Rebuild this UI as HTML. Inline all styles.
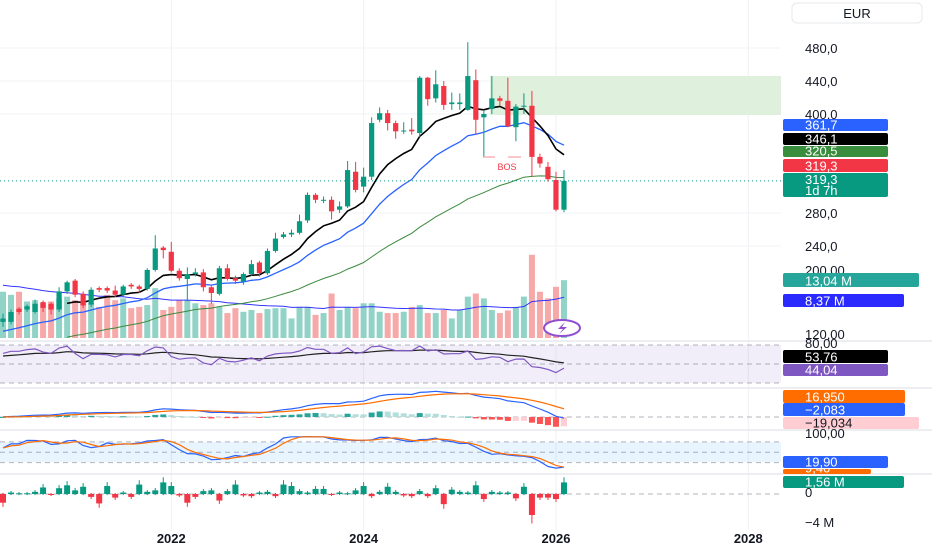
<!DOCTYPE html>
<html><head><meta charset="utf-8"><style>
html,body{margin:0;padding:0;background:#fff;}
svg{display:block;font-family:"Liberation Sans",sans-serif;}
</style></head><body>
<svg id="chart" width="932" height="550" viewBox="0 0 932 550">
<rect x="0" y="0" width="932" height="550" fill="#ffffff"/>
<g id="grid"></g>
<rect x="490" y="76" width="291" height="39" fill="#dff0dc"/>
<rect x="0" y="345" width="781" height="38" fill="rgba(126,87,194,0.1)"/>
<rect x="0" y="442" width="781" height="20" fill="rgba(33,150,243,0.1)"/>
<g id="marks"></g>
<g>
<line x1="483" y1="157" x2="495" y2="157" stroke="#f7a0a6" stroke-width="1.2"/>
<line x1="508" y1="157" x2="521" y2="157" stroke="#f7a0a6" stroke-width="1.2"/>
<text x="507" y="170" font-size="9" fill="#f23645" text-anchor="middle">BOS</text>
</g>
<g>
<ellipse cx="562" cy="328" rx="18" ry="8" fill="#fff" stroke="#8e4fd1" stroke-width="2"/>
<path d="M565 322 L558 329 L563 329 L559 334 L567 327 L562 327 Z" fill="#8e4fd1"/>
</g>
<g id="axis"></g>
</svg>
<script>
const categories = ["2020-04","2020-05","2020-06","2020-07","2020-08","2020-09","2020-10","2020-11","2020-12","2021-01","2021-02","2021-03","2021-04","2021-05","2021-06","2021-07","2021-08","2021-09","2021-10","2021-11","2021-12","2022-01","2022-02","2022-03","2022-04","2022-05","2022-06","2022-07","2022-08","2022-09","2022-10","2022-11","2022-12","2023-01","2023-02","2023-03","2023-04","2023-05","2023-06","2023-07","2023-08","2023-09","2023-10","2023-11","2023-12","2024-01","2024-02","2024-03","2024-04","2024-05","2024-06","2024-07","2024-08","2024-09","2024-10","2024-11","2024-12","2025-01","2025-02","2025-03","2025-04","2025-05","2025-06","2025-07","2025-08","2025-09","2025-10","2025-11","2025-12","2026-01","2026-02"];
const opens  = [148,148,164,163,160,172,170,163,185,198,182,169,189,189,186,181,193,191,188,211,238,233,210,200,206,208,190,182,213,201,197,206,220,207,234,251,254,256,271,302,296,296,284,288,330,312,324,393,401,389,379,381,377,444,419,434,412,412,405,441,396,406,419,416,384,409,410,348,336,320,284];
const closes = [152,160,160,167,170,165,163,185,196,181,168,187,187,186,181,191,191,188,211,237,235,210,201,206,208,190,183,213,200,198,206,218,207,234,249,254,256,270,302,296,296,282,288,332,308,324,389,401,389,379,380,379,444,418,436,411,414,414,446,393,400,419,416,385,409,410,348,340,321,284,319];
const highs  = [158,163,166,169,175,174,172,190,198,200,185,190,191,191,192,193,195,193,213,253,240,245,213,214,213,212,193,216,218,204,208,223,222,237,256,257,260,278,305,304,300,300,294,343,342,335,396,408,405,392,390,395,446,445,453,440,426,425,487,454,405,446,422,444,412,425,428,352,342,330,332];
const lows   = [142,145,157,160,158,160,157,160,182,178,165,166,184,183,178,179,188,183,186,209,225,208,198,173,203,185,170,180,198,194,193,204,203,205,232,249,251,254,268,292,292,272,280,286,305,305,320,390,380,370,376,375,372,410,414,405,405,405,404,375,348,400,410,384,367,400,324,335,318,282,281];
const volumes= [10.4,9.7,10.4,8.2,8.5,7.8,8.2,8.9,9.3,8.5,7.8,7.8,7.0,9.7,8.5,8.9,6.7,7.0,7.4,11.2,6.3,7.0,8.5,8.5,7.8,7.4,7.8,7.0,5.6,6.7,5.9,6.3,5.6,6.5,6.7,6.7,4.4,7.0,7.0,5.2,5.6,10.0,6.3,7.0,6.7,7.8,7.8,5.9,5.6,5.6,5.9,7.0,7.4,5.6,5.6,6.3,4.4,6.3,9.3,10.0,8.9,6.3,5.6,6.2,7.0,9.3,18.7,10.4,8.9,11.5,13.0];
const deltas = [-1.2,0.2,0.1,0.1,0.3,0.9,-0.1,0.8,1.2,0.5,1.0,-0.4,-1.3,1.1,-0.5,0.2,-0.4,1.3,0.3,0.5,1.6,1.1,-0.2,-1.2,-0.4,0.4,0.5,-0.9,0.4,1.3,-0.2,-0.3,0.2,0.3,-0.3,1.3,1.1,0.4,0.2,0.7,0.7,-0.1,0.2,0.1,0.5,1.1,-0.3,0.3,1.0,0.3,-0.2,-0.3,0.4,-0.3,0.8,-1.4,0.6,0.3,0.2,1.2,-0.7,0.3,0.2,0.2,-0.6,1.0,-2.9,-0.5,-0.5,-0.7,1.6];
const priceTicks = [480,440,400,280,240];
const yearLabels = ["2022","2024","2026","2028"];

const NS="http://www.w3.org/2000/svg";
const marks=document.getElementById('marks');
const grid=document.getElementById('grid');
const axis=document.getElementById('axis');
const PLOT_R=781;
function xIdx(i){return 3+i*8.014;}
function xMonth(ym){const [y,m]=ym.split('-').map(Number);return xIdx((y-2020)*12+(m-4));}
function yPrice(p){return 40+(489.7-p)*0.825;}
function yVol(v){return 338-v*4.45;}
function yRsi(v){return 345+(80-v)*0.633;}
function yMacd(v){return 417-v*0.5;}
function yStoch(v){return 435+(100-v)*0.345;}
function yDelta(v){return 494-v*7.25;}
function mk(tag,attrs,parent){const e=document.createElementNS(NS,tag);for(const k in attrs)e.setAttribute(k,attrs[k]);(parent||marks).appendChild(e);return e;}
function ema(arr,n,seed){const a=2/(n+1);let v=seed;return arr.map(x=>{v=v+a*(x-v);return v;});}
function sma(arr,n){return arr.map((x,i)=>{const s=arr.slice(Math.max(0,i-n+1),i+1);return s.reduce((p,q)=>p+q,0)/s.length;});}
function pathOf(vals,fy,start){let d='';vals.forEach((v,i)=>{if(i<(start||0))return;d+=(d?'L':'M')+xIdx(i).toFixed(1)+' '+fy(v).toFixed(1);});return d;}

// grid
yearLabels.forEach(y=>{const x=xMonth(y+'-01');
  const g=mk('line',{x1:x,y1:0,x2:x,y2:530,stroke:'#eef0f4','stroke-width':1},grid);
  
  
  const t=mk('text',{x:x,y:543,'font-size':13,'font-weight':'bold',fill:'#131722','text-anchor':'middle'},axis);
  t.textContent=y;
  
  
});
priceTicks.forEach(p=>{const y=yPrice(p);
  const g=mk('line',{x1:0,y1:y,x2:PLOT_R,y2:y,stroke:'#f2f3f6','stroke-width':1},grid);
  
  
  const t=mk('text',{x:805,y:y+5,'font-size':13,fill:'#131722'},axis);
  t.textContent=p.toFixed(1).replace('.',',');
  
  
});
[341,388,430,474].forEach(y=>{const l=mk('line',{x1:0,y1:y,x2:932,y2:y,stroke:'#e6e8ee','stroke-width':1.5},grid);
  
  });
[yRsi(80),yRsi(50),yRsi(20),yStoch(80),yStoch(50),yStoch(20),yMacd(0),yDelta(0)].forEach(y=>{
  const l=mk('line',{x1:0,y1:y,x2:PLOT_R,y2:y,stroke:'#b2b5be','stroke-width':1,'stroke-dasharray':'5,4'},grid);
  
  });

const G='#089981',R='#f23645';
// volume
volumes.forEach((v,i)=>{const up=closes[i]>=opens[i];
  const b=mk('rect',{x:xIdx(i)-3,y:yVol(v),width:6,height:338-yVol(v),fill:up?'#92d3c8':'#f7a8a8'});
  
  });
const volMa=ema(volumes,20,12);
const vm=mk('path',{d:pathOf(volMa,yVol),fill:'none',stroke:'#3333ff','stroke-width':1});


// MAs
const maGreen=ema(closes,50,112), maBlue=ema(closes,20,135), maBlack=ema(closes,10,150);
[[maGreen,'#3b8a3e',1,'ma-long-line',8],[maBlue,'#2962ff',1.3,'ma-mid-line',0],[maBlack,'#000',1.6,'ma-short-line',8]].forEach(([arr,c,w,n,s])=>{
  const p=mk('path',{d:pathOf(arr,yPrice,s),fill:'none',stroke:c,'stroke-width':w});
  
  });
// last price line
const lp=mk('line',{x1:0,y1:yPrice(closes[closes.length-1]),x2:PLOT_R,y2:yPrice(closes[closes.length-1]),stroke:'#089981','stroke-width':1,'stroke-dasharray':'1,3'});


// candles
closes.forEach((c,i)=>{const o=opens[i],up=c>=o,col=up?G:R,x=xIdx(i);
  const w=mk('line',{x1:x,y1:yPrice(highs[i]),x2:x,y2:yPrice(lows[i]),stroke:col,'stroke-width':1});
  
  
  const top=yPrice(Math.max(o,c)),h=Math.max(1,Math.abs(yPrice(o)-yPrice(c)));
  const b=mk('rect',{x:x-2.6,y:top,width:5.2,height:h,fill:col});
  
  });
// RSI
const gains=[],losses=[];closes.forEach((c,i)=>{const d=i?c-closes[i-1]:0;gains.push(Math.max(d,0));losses.push(Math.max(-d,0));});
const ag=ema(gains,27,4),al=ema(losses,27,2);
const rsi=ag.map((g,i)=>100-100/(1+g/Math.max(al[i],0.01)));
const rsiMa=ema(rsi,14,62);
const r1=mk('path',{d:pathOf(rsiMa,yRsi),fill:'none',stroke:'#222','stroke-width':1.2});


const r2=mk('path',{d:pathOf(rsi,yRsi),fill:'none',stroke:'#7e57c2','stroke-width':1.2});


// MACD
const e12=ema(closes,12,150),e26=ema(closes,26,150);
const macd=e12.map((v,i)=>v-e26[i]);const sig=ema(macd,9,0);
macd.forEach((m,i)=>{const h=m-sig[i],prev=i?macd[i-1]-sig[i-1]:0;
  const col=h>=0?(h>=prev?'#26a69a':'#b2dfdb'):(h<=prev?'#ff5252':'#ffcdd2');
  const y0=yMacd(0),y1=yMacd(h);
  const b=mk('rect',{x:xIdx(i)-3,y:Math.min(y0,y1),width:6,height:Math.max(1,Math.abs(y1-y0)),fill:col});
  
  });
const m1=mk('path',{d:pathOf(macd,yMacd),fill:'none',stroke:'#2962ff','stroke-width':1.2});


const m2=mk('path',{d:pathOf(sig,yMacd),fill:'none',stroke:'#ff6d00','stroke-width':1.2});


// Stochastic
const raw=closes.map((c,i)=>{const s=Math.max(0,i-13);const hh=Math.max(...highs.slice(s,i+1)),ll=Math.min(...lows.slice(s,i+1));return (c-ll)/Math.max(hh-ll,1)*100;});
const kLine=sma(raw,3),dLine=sma(kLine,3);
const s1=mk('path',{d:pathOf(kLine,yStoch),fill:'none',stroke:'#2962ff','stroke-width':1.2});


const s2=mk('path',{d:pathOf(dLine,yStoch),fill:'none',stroke:'#ff6d00','stroke-width':1.2});


// delta volume candles
deltas.forEach((v,i)=>{const col=v>=0?G:R,x=xIdx(i);
  const y0=yDelta(0),y1=yDelta(v),ext=Math.abs(v)*0.35+0.15;
  const w=mk('line',{x1:x,y1:yDelta(v>=0?v+ext:0.15),x2:x,y2:yDelta(v>=0?-0.15:v-ext),stroke:col,'stroke-width':1});
  
  
  const b=mk('rect',{x:x-3,y:Math.min(y0,y1),width:6,height:Math.max(1,Math.abs(y1-y0)),fill:col});
  
  });

// right axis boxes
const eur=mk('rect',{x:792,y:3,width:130,height:20,rx:5,fill:'#fff',stroke:'#e6e8ee'},axis);


const et=mk('text',{x:857,y:18,'font-size':13,fill:'#131722','text-anchor':'middle'},axis);
et.textContent='EUR';


const texts=[['200,00',275],['120,00',339],['80,00',348],['100,00',438],['0',497],['\u22124 M',527]];
texts.forEach(([s,y])=>{const t=mk('text',{x:805,y:y,'font-size':13,fill:'#131722'},axis);
  t.textContent=s;
  
  });
const tags=[['361,7',119,12,888,'#2962ff','#fff'],['346,1',133,12,888,'#000','#fff'],['320,5',146,11,888,'#388e3c','#fff'],['319,3',159,13,888,'#f23645','#fff'],
 ['13,04 M',273,14,919,'#26a69a','#fff'],['8,37 M',294,13,904,'#2a2aff','#fff'],['53,76',350,13,888,'#000','#fff'],['44,04',364,12,888,'#7e57c2','#fff'],
 ['16,950',390,13,905,'#ff6d00','#fff'],['\u22122,083',403,13,905,'#2962ff','#fff'],['\u221219,034',417,12,919,'#ffcdd2','#131722'],['9,40',469,5,871,'#ff6d00','#fff'],['19,90',456,12,888,'#2962ff','#fff'],['1,56 M',476,12,904,'#089981','#fff']];
tags.forEach(([s,y,h,xr,bg,fg])=>{const r=mk('rect',{x:783,y:y,width:xr-783,height:h,rx:2,fill:bg},axis);
  
  
  const t=mk('text',{x:805,y:y+h-1.5,'font-size':13,fill:fg},axis);
  t.textContent=s;
  
  });
const lr=mk('rect',{x:783,y:173,width:105,height:24,rx:2,fill:'#089981'},axis);


const lt1=mk('text',{x:805,y:184,'font-size':13,fill:'#fff'},axis);
lt1.textContent='319,3';


const lt2=mk('text',{x:805,y:195,'font-size':13,fill:'#fff'},axis);
lt2.textContent='1d 7h';


</script>
</body></html>
